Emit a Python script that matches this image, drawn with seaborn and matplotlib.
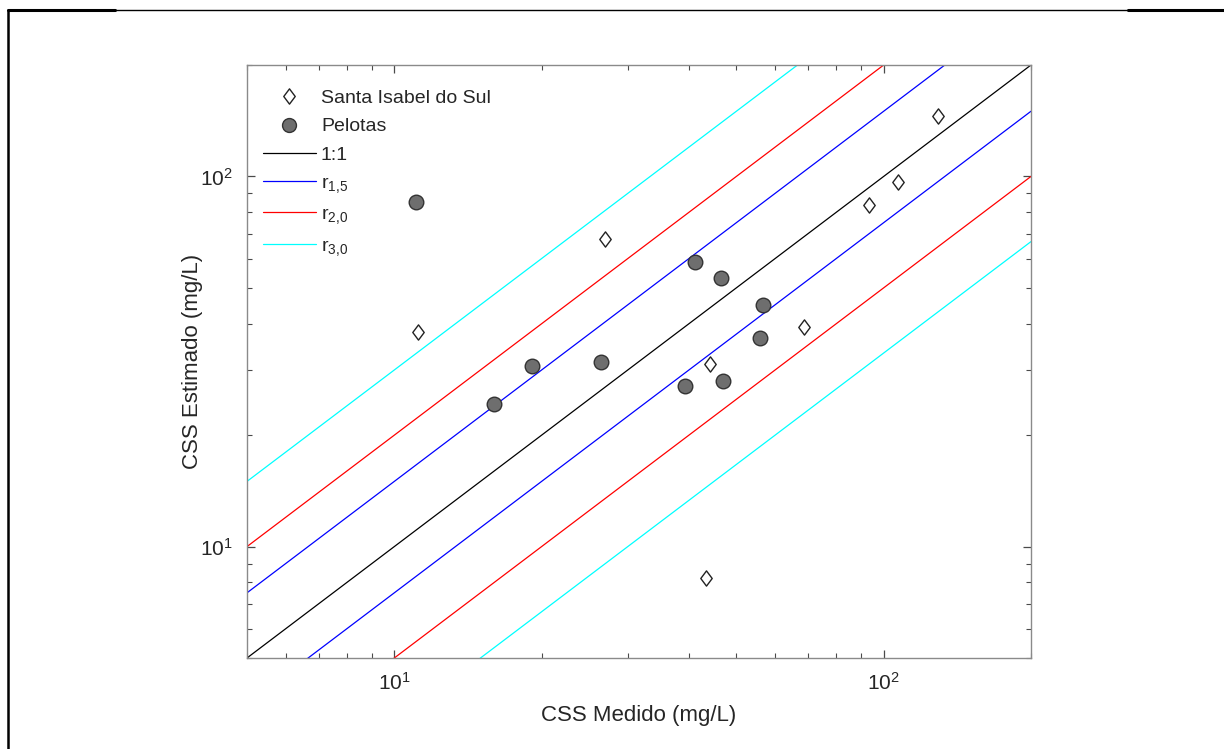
import numpy as np
import pandas as pd
import seaborn as sns
import matplotlib.pyplot as plt
from matplotlib.lines import Line2D
from matplotlib.path import Path
from matplotlib.ticker import LogLocator, NullFormatter

# Dati (CSS medido vs estimado, mg/L)
sis_medido = [11.2, 26.9, 44.1, 68.6, 43.3, 93.2, 106.8, 129.0]
sis_estimado = [38.0, 67.6, 31.1, 39.2, 8.2, 83.5, 96.3, 146.0]

pel_medido = [11.1, 16.0, 19.1, 26.5, 41.1, 46.6, 56.8, 55.8, 39.2, 46.9]
pel_estimado = [85.1, 24.3, 30.7, 31.5, 58.7, 53.1, 44.9, 36.6, 27.2, 28.0]

# Rette di riferimento: fattore superiore / inferiore
ref_labels = ["1:1", r"r$_{1{,}5}$", r"r$_{2{,}0}$", r"r$_{3{,}0}$"]
ref_upper = [1.0, 1.5, 2.0, 3.0]
ref_lower = [1.0, 0.75, 0.5, 1 / 3]
ref_colors = ["#000000", "#0000ff", "#ff0000", "#00ffff"]

x_range = [5, 200]

# rombo stile MATLAB (più largo di 'd')
diamond = Path([(0, 1), (0.75, 0), (0, -1), (-0.75, 0), (0, 1)],
               [Path.MOVETO, Path.LINETO, Path.LINETO, Path.LINETO, Path.CLOSEPOLY])

sns.set_theme(style="ticks")
plt.rcParams["font.family"] = ["Liberation Sans", "DejaVu Sans"]
plt.rcParams["mathtext.fontset"] = "custom"
plt.rcParams["mathtext.rm"] = "Liberation Sans"
plt.rcParams["mathtext.it"] = "Liberation Sans"

fig = plt.figure(figsize=(12.24, 7.49), dpi=100)
ax = fig.add_axes([0.2018, 0.1215, 0.6405, 0.7917])

# Linee di riferimento
for lab, up, lo, col in zip(ref_labels, ref_upper, ref_lower, ref_colors):
    df_up = pd.DataFrame({"x": x_range, "y": [v * up for v in x_range]})
    sns.lineplot(data=df_up, x="x", y="y", ax=ax, color=col, lw=0.9)
    if lo != up:
        df_lo = pd.DataFrame({"x": x_range, "y": [v * lo for v in x_range]})
        sns.lineplot(data=df_lo, x="x", y="y", ax=ax, color=col, lw=0.9)

# Punti
df_sis = pd.DataFrame({"medido": sis_medido, "estimado": sis_estimado})
df_pel = pd.DataFrame({"medido": pel_medido, "estimado": pel_estimado})
sns.scatterplot(data=df_sis, x="medido", y="estimado", ax=ax, marker=diamond,
                s=120, facecolor="white", edgecolor="#222222", linewidth=1.0, zorder=5)
sns.scatterplot(data=df_pel, x="medido", y="estimado", ax=ax, marker="o",
                s=110, facecolor="#6e6e6e", edgecolor="#333333", linewidth=1.0, zorder=5)

ax.set_xscale("log")
ax.set_yscale("log")
ax.set_xlim(5, 200)
ax.set_ylim(5, 200)

ax.xaxis.set_major_locator(LogLocator(base=10))
ax.yaxis.set_major_locator(LogLocator(base=10))
ax.xaxis.set_minor_locator(LogLocator(base=10, subs=np.arange(2, 10)))
ax.yaxis.set_minor_locator(LogLocator(base=10, subs=np.arange(2, 10)))
ax.xaxis.set_minor_formatter(NullFormatter())
ax.yaxis.set_minor_formatter(NullFormatter())

for sp in ax.spines.values():
    sp.set_visible(True)
    sp.set_color("#8a8a8a")
    sp.set_linewidth(1.0)

ax.tick_params(which="both", direction="in", top=True, right=True,
               color="#4a4a4a", labelcolor="#262626", labelsize=15, pad=10)
ax.tick_params(which="major", length=6, width=0.9)
ax.tick_params(which="minor", length=3.5, width=0.8)

ax.set_xlabel("CSS Medido (mg/L)", fontsize=16, color="#262626", labelpad=8)
ax.set_ylabel("CSS Estimado (mg/L)", fontsize=16, color="#262626", labelpad=-2)

# Legenda
handles = [
    Line2D([], [], ls="none", marker=diamond, ms=11, mfc="white", mec="#222222", mew=1.0),
    Line2D([], [], ls="none", marker="o", ms=10, mfc="#6e6e6e", mec="#333333", mew=1.0),
]
handles += [Line2D([], [], color=c, lw=0.9) for c in ref_colors]
labels = ["Santa Isabel do Sul", "Pelotas"] + ref_labels
ax.legend(handles, labels, loc="upper left", frameon=False, fontsize=14,
          handlelength=2.75, handletextpad=0.25, labelspacing=0.55,
          borderaxespad=0.4, bbox_to_anchor=(0.0, 0.985))

# Bordi della tabella
fig.add_artist(Line2D([8 / 1224, 1.0], [1 - 10 / 749] * 2, color="black", lw=1.0,
                      transform=fig.transFigure))
fig.add_artist(Line2D([8 / 1224, 115 / 1224], [1 - 10 / 749] * 2, color="black", lw=2.2,
                      transform=fig.transFigure))
fig.add_artist(Line2D([1128 / 1224, 1.0], [1 - 10 / 749] * 2, color="black", lw=2.2,
                      transform=fig.transFigure))
fig.add_artist(Line2D([8 / 1224] * 2, [0, 1 - 10 / 749], color="black", lw=1.8,
                      transform=fig.transFigure))

fig.savefig("out.png", dpi=100)
